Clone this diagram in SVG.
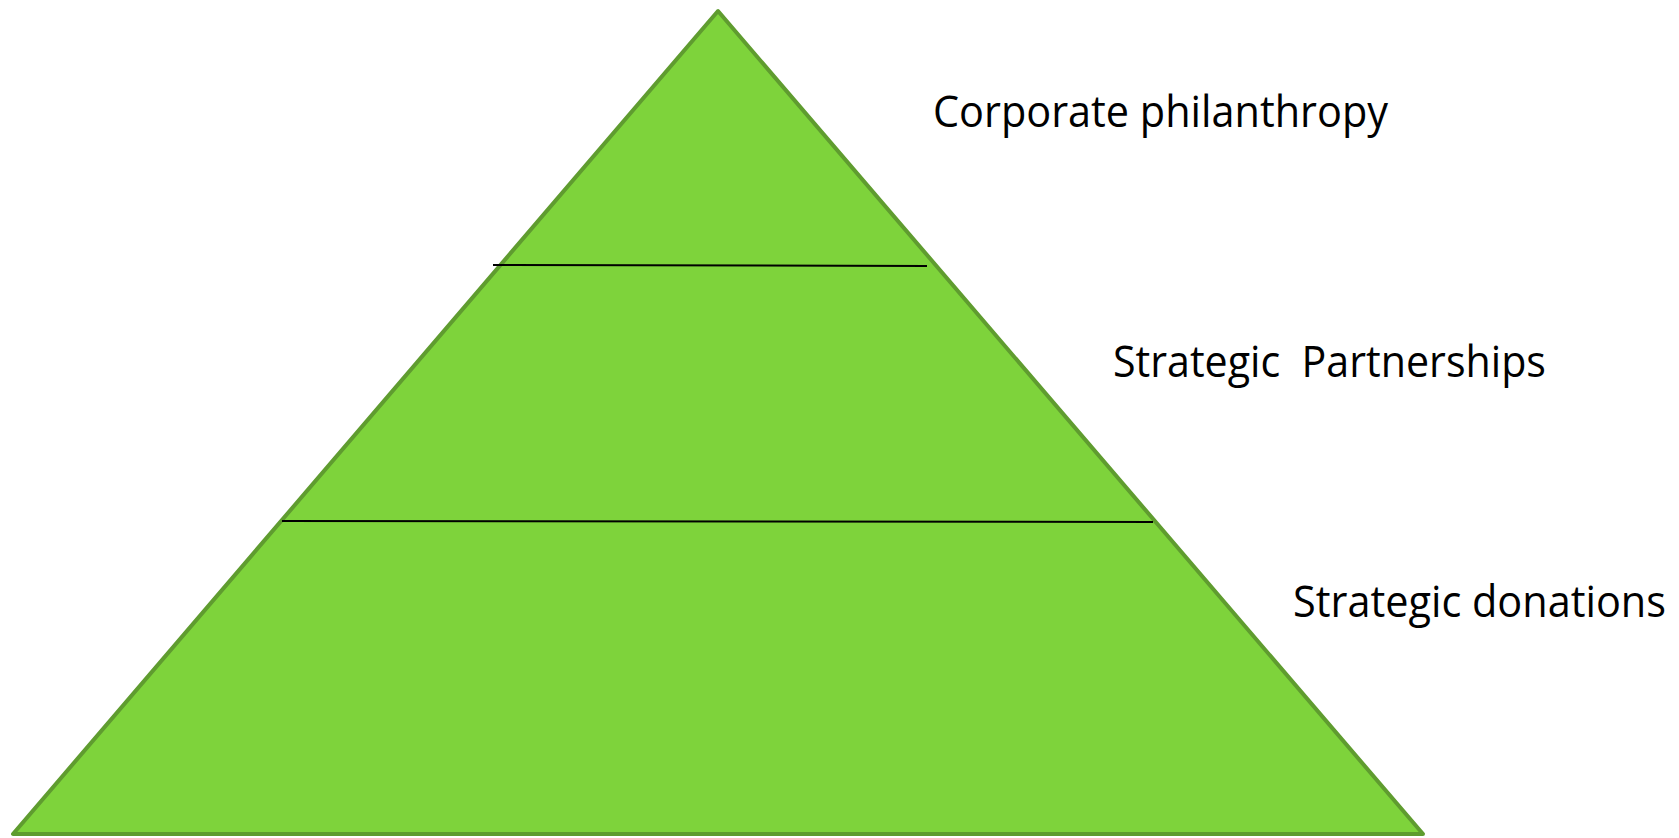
<svg xmlns="http://www.w3.org/2000/svg" width="1679" height="838" viewBox="0 0 1679 838">
<style>
.tri{fill:#7ed33b;stroke:#5f9c2f;stroke-width:4;stroke-linejoin:round}
.div{stroke:#000;stroke-width:2}
.lbl{font-family:"Open Sans","Liberation Sans",sans-serif;font-size:44px;fill:#000}
</style>
<rect width="1679" height="838" fill="#fff"/>
<g id="pyramid">
<polygon class="tri" points="718,11 13,834 1423,834"/>
</g>
<g id="connectors">
<line class="div" x1="493" y1="265" x2="927" y2="266"/>
<line class="div" x1="282" y1="521" x2="1153" y2="522"/>
</g>
<g id="label-top"><text class="lbl" x="933" y="127" textLength="455" lengthAdjust="spacingAndGlyphs">Corporate philanthropy</text></g>
<g id="label-mid"><text class="lbl" x="1113" y="377" textLength="433" lengthAdjust="spacingAndGlyphs" xml:space="preserve">Strategic  Partnerships</text></g>
<g id="label-bottom"><text class="lbl" x="1293" y="617" textLength="373" lengthAdjust="spacingAndGlyphs">Strategic donations</text></g>
</svg>
